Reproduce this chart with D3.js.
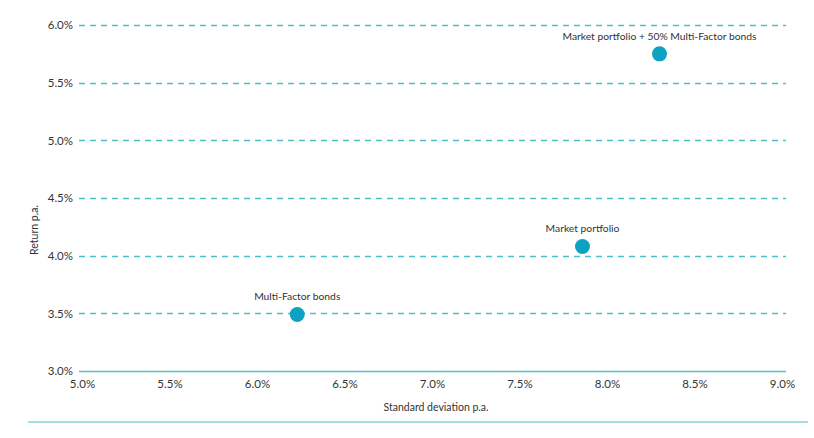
<!DOCTYPE html>
<html>
<head>
<meta charset="utf-8">
<script src="https://cdn.jsdelivr.net/npm/d3@7"></script>
<style>
  body { margin: 0; background: #fff; }
  svg text { font-family: Lato, "Open Sans", sans-serif; fill: #333; }
</style>
</head>
<body>
<div class="chartWrapper"></div>
<script>
// data
var portfolioNames = ["Multi-Factor bonds", "Market portfolio", "Market portfolio + 50% Multi-Factor bonds"];
var stdDevValues = [6.23, 7.86, 8.30];
var returnValues = [3.49, 4.08, 5.75];
var xTicks = [5.0, 5.5, 6.0, 6.5, 7.0, 7.5, 8.0, 8.5, 9.0];
var yTicks = [3.0, 3.5, 4.0, 4.5, 5.0, 5.5, 6.0];

var width = 814,
    height = 438,
    teal = "#4cc0c8",
    dotColor = "#0ea2c2";

var svg = d3.select(".chartWrapper")
    .append("svg")
    .attr("width", width)
    .attr("height", height);

var xScale = d3.scaleLinear().domain([5, 9]).range([82, 782]);
var yScale = d3.scaleLinear().domain([3, 6]).range([371, 25]);

// horizontal grid lines
svg.selectAll(".grid")
    .data(yTicks)
    .enter()
    .append("line")
    .attr("x1", 79)
    .attr("x2", 786)
    .attr("y1", function (d) { return Math.round(yScale(d)) + 0.5; })
    .attr("y2", function (d) { return Math.round(yScale(d)) + 0.5; })
    .attr("stroke", teal)
    .attr("stroke-width", function (d) { return d === 3 ? 1.5 : 1.3; })
    .attr("stroke-dasharray", function (d) { return d === 3 ? null : "6,5"; });

// y axis labels
var yAxis = d3.axisLeft(yScale)
    .tickValues(yTicks)
    .tickSize(0)
    .tickPadding(6)
    .tickFormat(function (d) { return d.toFixed(1) + "%"; });
svg.append("g")
    .attr("transform", "translate(79,0)")
    .call(yAxis)
    .call(function (g) { g.select(".domain").remove(); })
    .selectAll("text")
    .style("font-size", "11.5px")
    .attr("fill", "#333");

// x axis labels
var xAxis = d3.axisBottom(xScale)
    .tickValues(xTicks)
    .tickSize(0)
    .tickPadding(9)
    .tickFormat(function (d) { return d.toFixed(1) + "%"; });
svg.append("g")
    .attr("transform", "translate(0,371)")
    .call(xAxis)
    .call(function (g) { g.select(".domain").remove(); })
    .selectAll("text")
    .style("font-size", "11.5px")
    .attr("fill", "#333");

// axis titles
svg.append("text")
    .attr("transform", "translate(38,230) rotate(-90)")
    .attr("text-anchor", "middle")
    .style("font-size", "10.5px")
    .text("Return p.a.");
svg.append("text")
    .attr("x", 436)
    .attr("y", 411)
    .attr("text-anchor", "middle")
    .style("font-size", "10.5px")
    .text("Standard deviation p.a.");

// bottom rule
svg.append("line")
    .attr("x1", 28).attr("x2", 808)
    .attr("y1", 422).attr("y2", 422)
    .attr("stroke", teal)
    .attr("stroke-width", 1.2);

// points
var pts = portfolioNames.map(function (n, i) {
    return { name: n, sd: stdDevValues[i], ret: returnValues[i] };
});
var g = svg.selectAll(".pt")
    .data(pts)
    .enter()
    .append("g")
    .attr("transform", function (d) {
        return "translate(" + xScale(d.sd) + "," + yScale(d.ret) + ")";
    });
g.append("circle")
    .attr("r", 7.5)
    .attr("fill", dotColor);
g.append("text")
    .attr("y", -14)
    .attr("text-anchor", "middle")
    .style("font-size", "10.3px")
    .text(function (d) { return d.name; });
</script>
</body>
</html>
